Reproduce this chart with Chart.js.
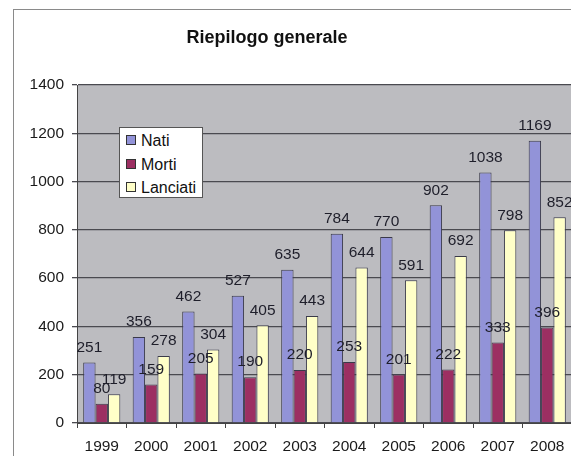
<!DOCTYPE html>
<html>
<head>
<meta charset="utf-8">
<script src="https://cdn.jsdelivr.net/npm/chart.js@4/dist/chart.umd.min.js"></script>
<style>
  html, body {
    margin: 0;
    padding: 0;
    background: #ffffff;
    overflow: hidden;
  }
  #wrap {
    position: relative;
    width: 571px;
    height: 456px;
    overflow: hidden;
    font-family: "Liberation Sans", Arial, sans-serif;
  }
  #frame {
    position: absolute;
    left: 13px;
    top: 9px;
    width: 700px;
    height: 600px;
    border: 1px solid #8a8a8a;
  }
  #chartBox {
    position: absolute;
    left: 0;
    top: 0;
    width: 580px;
    height: 456px;
  }
  #title {
    position: absolute;
    left: 167px;
    width: 200px;
    top: 27px;
    text-align: center;
    font-weight: bold;
    font-size: 18px;
    color: #111;
  }
  #legend {
    position: absolute;
    left: 119px;
    top: 127px;
    width: 82px;
    height: 69px;
    background: #ffffff;
    border: 1px solid #555;
  }
  .legend-item {
    position: absolute;
    left: 6px;
    font-size: 16px;
    color: #111;
    line-height: 18px;
  }
  .legend-item span.sw {
    display: inline-block;
    width: 8px;
    height: 8px;
    border: 1px solid #333;
    margin-right: 5px;
    vertical-align: 1px;
  }
</style>
</head>
<body>
<div id="wrap">
  <div id="frame"></div>
  <div id="chartBox"><canvas id="chart"></canvas></div>
  <div id="title">Riepilogo generale</div>
  <div id="legend"></div>
</div>
<script>
const years = ["1999", "2000", "2001", "2002", "2003", "2004", "2005", "2006", "2007", "2008"];
const nati = [251, 356, 462, 527, 635, 784, 770, 902, 1038, 1169];
const morti = [80, 159, 205, 190, 220, 253, 201, 222, 333, 396];
const lanciati = [119, 278, 304, 405, 443, 644, 591, 692, 798, 852];
const seriesNames = ["Nati", "Morti", "Lanciati"];
const seriesColors = ["#9293d8", "#9c2f62", "#ffffc8"];

const TICK_FONT = { family: "'Liberation Sans', Arial, sans-serif", size: 15.5 };

const plotBackground = {
  id: "plotBackground",
  beforeDraw(chart) {
    const { ctx, chartArea } = chart;
    ctx.save();
    ctx.fillStyle = "#bcbcc0";
    ctx.fillRect(chartArea.left, chartArea.top, chartArea.right - chartArea.left, chartArea.bottom - chartArea.top);
    ctx.restore();
  }
};

const valueLabels = {
  id: "valueLabels",
  afterDatasetsDraw(chart) {
    const ctx = chart.ctx;
    ctx.save();
    ctx.font = "15.5px 'Liberation Sans', Arial, sans-serif";
    ctx.fillStyle = "#1e1e2a";
    ctx.textAlign = "center";
    ctx.textBaseline = "middle";
    chart.data.datasets.forEach((ds, i) => {
      const meta = chart.getDatasetMeta(i);
      meta.data.forEach((bar, j) => {
        ctx.fillText(String(ds.data[j]), bar.x, bar.y - 15);
      });
    });
    ctx.restore();
  }
};

function buildLegend() {
  const legendEl = document.getElementById("legend");
  seriesNames.forEach((name, i) => {
    const item = document.createElement("div");
    item.className = "legend-item";
    item.style.top = (4 + i * 23.5) + "px";
    item.innerHTML = `<span class="sw" style="background:${seriesColors[i]}"></span>${name}`;
    legendEl.appendChild(item);
  });
}

function makeDataset(label, data, color) {
  return {
    label,
    data,
    backgroundColor: color,
    borderColor: "#3a3a4a",
    borderWidth: 1,
    barPercentage: 1,
    categoryPercentage: 0.75
  };
}

document.addEventListener("DOMContentLoaded", () => {
  buildLegend();

  new Chart(document.getElementById("chart"), {
    type: "bar",
    data: {
      labels: years,
      datasets: [
        makeDataset(seriesNames[0], nati, seriesColors[0]),
        makeDataset(seriesNames[1], morti, seriesColors[1]),
        makeDataset(seriesNames[2], lanciati, seriesColors[2])
      ]
    },
    options: {
      responsive: true,
      maintainAspectRatio: false,
      animation: false,
      layout: {
        padding: { left: 13, top: 85, right: 8, bottom: 0 }
      },
      plugins: {
        legend: { display: false },
        tooltip: { enabled: false }
      },
      scales: {
        x: {
          afterFit(scale) { scale.height = 33; },
          ticks: {
            color: "#1a1a1a",
            font: TICK_FONT,
            padding: 9,
            maxRotation: 0
          },
          grid: {
            drawOnChartArea: false,
            tickLength: 5,
            color: "#444"
          },
          border: { color: "#444", width: 1 }
        },
        y: {
          min: 0,
          max: 1400,
          afterFit(scale) { scale.width = 64; },
          ticks: {
            stepSize: 200,
            color: "#1a1a1a",
            font: TICK_FONT,
            padding: 8,
            callback: (value) => String(value)
          },
          grid: {
            color: "#4a4a50",
            lineWidth: 1.3,
            tickLength: 5
          },
          border: { color: "#444", width: 1 }
        }
      }
    },
    plugins: [plotBackground, valueLabels]
  });
});
</script>
</body>
</html>
